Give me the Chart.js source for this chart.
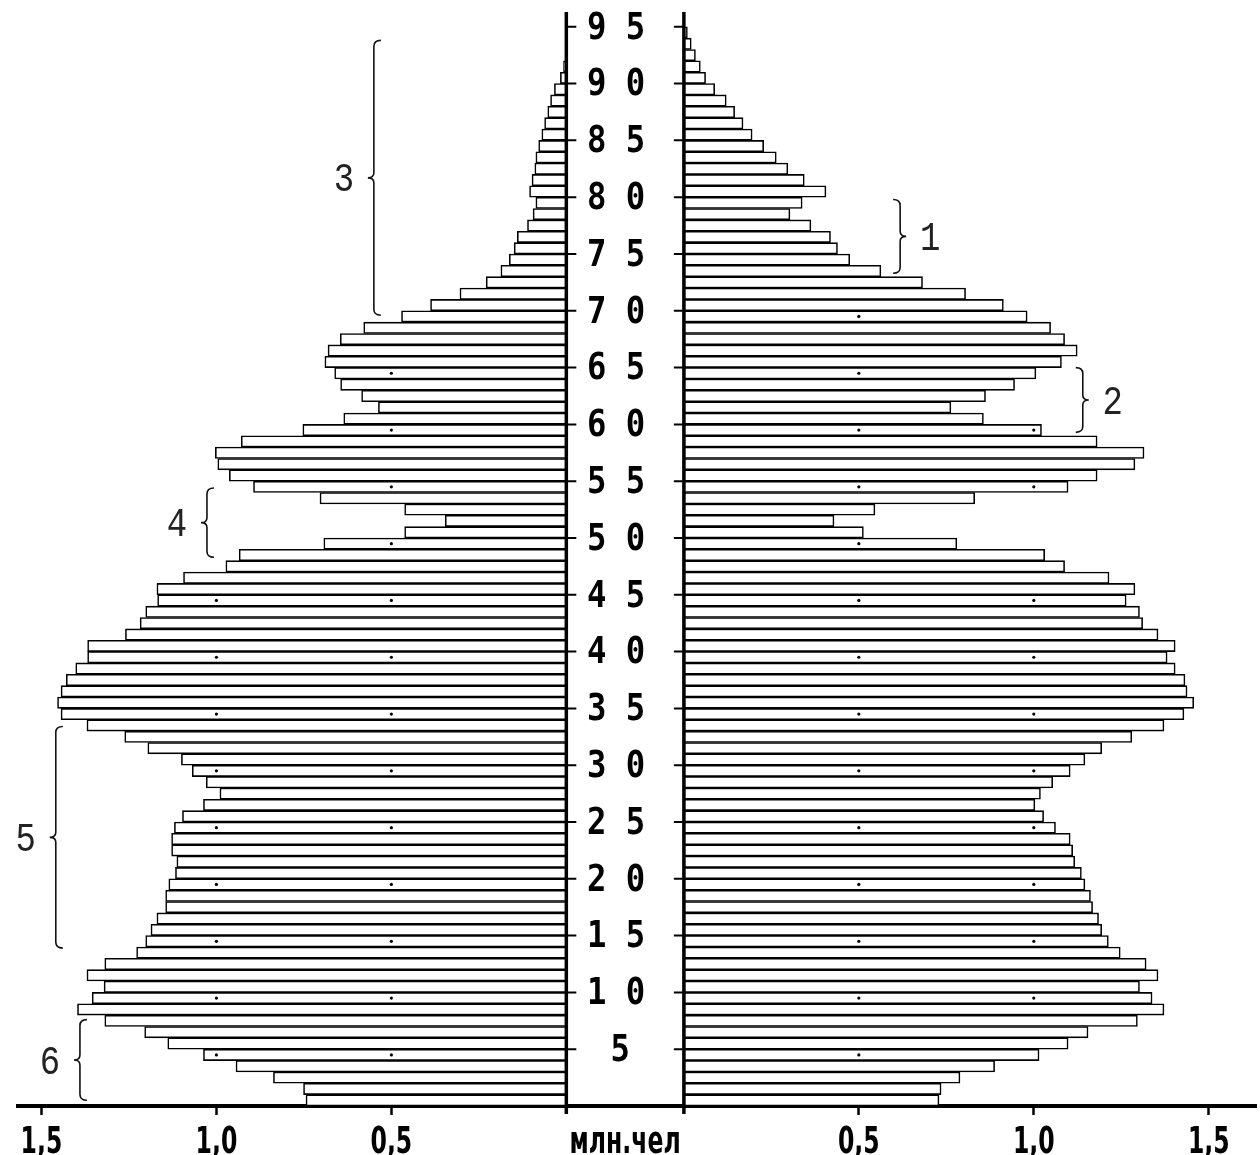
<!DOCTYPE html>
<html>
<head>
<meta charset="utf-8">
<script src="https://cdn.jsdelivr.net/npm/chart.js@4"></script>
<style>
  html, body { margin: 0; padding: 0; background: #fff; }
  #wrap { width: 1260px; height: 1155px; position: relative; }
</style>
</head>
<body>
<div id="wrap"><canvas id="pyramid"></canvas></div>
<script>
// values in million people, ages 0..94 (single years)
const males = [
  0.744, 0.751, 0.837, 0.944, 1.037, 1.139, 1.205, 1.319, 1.397, 1.355,
  1.321, 1.370, 1.319, 1.228, 1.202, 1.187, 1.170, 1.145, 1.145, 1.136,
  1.117, 1.113, 1.128, 1.128, 1.120, 1.097, 1.037, 0.990, 1.029, 1.069,
  1.100, 1.196, 1.262, 1.370, 1.444, 1.454, 1.444, 1.429, 1.402, 1.368,
  1.368, 1.260, 1.218, 1.202, 1.168, 1.170, 1.094, 0.973, 0.935, 0.693,
  0.462, 0.346, 0.462, 0.704, 0.894, 0.963, 0.996, 1.003, 0.929, 0.753,
  0.636, 0.537, 0.585, 0.645, 0.662, 0.690, 0.681, 0.646, 0.579, 0.471,
  0.388, 0.304, 0.229, 0.187, 0.163, 0.149, 0.140, 0.111, 0.095, 0.087,
  0.105, 0.098, 0.090, 0.087, 0.079, 0.070, 0.062, 0.053, 0.045, 0.034,
  0.017, 0.008, 0, 0, 0
];
const females = [
  0.729, 0.735, 0.789, 0.888, 1.015, 1.098, 1.155, 1.296, 1.372, 1.338,
  1.302, 1.355, 1.321, 1.247, 1.213, 1.194, 1.185, 1.168, 1.162, 1.146,
  1.136, 1.117, 1.111, 1.104, 1.062, 1.028, 1.003, 1.019, 1.054, 1.104,
  1.146, 1.194, 1.280, 1.372, 1.429, 1.457, 1.438, 1.432, 1.404, 1.381,
  1.404, 1.355, 1.311, 1.302, 1.264, 1.289, 1.215, 1.088, 1.031, 0.780,
  0.513, 0.429, 0.546, 0.831, 1.098, 1.181, 1.289, 1.315, 1.181, 1.022,
  0.856, 0.763, 0.862, 0.945, 1.006, 1.079, 1.124, 1.088, 1.048, 0.981,
  0.913, 0.805, 0.682, 0.563, 0.474, 0.439, 0.419, 0.363, 0.303, 0.338,
  0.406, 0.344, 0.297, 0.264, 0.228, 0.195, 0.169, 0.145, 0.121, 0.088,
  0.062, 0.047, 0.033, 0.021, 0.010
];
const ages = males.map((v, i) => i);
const ageTicks = [5, 10, 15, 20, 25, 30, 35, 40, 45, 50, 55, 60, 65, 70, 75, 80, 85, 90, 95];
const valueTicks = [0.5, 1.0, 1.5];
const unitLabel = 'млн.чел';
const dotAges = [4, 9, 14, 19, 24, 29, 34, 39, 44, 49, 54, 59, 64, 69];

// bracket notes: age range, x position (signed, million units from centre), side, label
const notes = [
  { from: 69.6, to: 93.8, at: -0.718, dir: -1, label: '3' },
  { from: 73.3, to: 79.8, at: 0.786, dir: 1, label: '1' },
  { from: 59.3, to: 65.0, at: 1.308, dir: 1, label: '2' },
  { from: 48.3, to: 54.4, at: -1.195, dir: -1, label: '4' },
  { from: 13.9, to: 33.4, at: -1.627, dir: -1, label: '5' },
  { from: 0.5, to: 7.6, at: -1.558, dir: -1, label: '6' }
];

const HALF_GAP = 0.168; // half of the central label column, in million units

const maleBars = ages.map(a => males[a] > 0 ? { y: a + 0.5, x: [-HALF_GAP - males[a], -HALF_GAP] } : null).filter(Boolean);
const femaleBars = ages.map(a => females[a] > 0 ? { y: a + 0.5, x: [HALF_GAP, HALF_GAP + females[a]] } : null).filter(Boolean);

const dots = [];
dotAges.forEach(a => {
  [0.5, 1.0].forEach(v => {
    if (males[a] > v + 0.02) dots.push({ x: -HALF_GAP - v, y: a + 0.5 });
    if (females[a] > v + 0.02) dots.push({ x: HALF_GAP + v, y: a + 0.5 });
  });
});

const tickText = (value) => {
  if (Math.abs(value) < 1e-9) return unitLabel;
  return (Math.abs(value) - HALF_GAP).toFixed(1).replace('.', ',');
};

// narrow bold lettering, like the original printout
const drawNarrow = (ctx, text, x, y, squeeze) => {
  ctx.save();
  ctx.translate(x, y);
  ctx.scale(squeeze, 1);
  ctx.fillText(text, 0, 0);
  ctx.restore();
};

const centrePlugin = {
  id: 'centre',
  afterDatasetsDraw(chart) {
    const { ctx, chartArea, scales } = chart;
    const xs = scales.x, ys = scales.y;
    const xl = xs.getPixelForValue(-HALF_GAP);
    const xr = xs.getPixelForValue(HALF_GAP);
    ctx.save();
    ctx.strokeStyle = '#000';
    ctx.lineWidth = 3.5;
    [xl, xr].forEach(x => {
      ctx.beginPath();
      ctx.moveTo(x, chartArea.top);
      ctx.lineTo(x, chartArea.bottom + 8);
      ctx.stroke();
    });

    ctx.lineWidth = 2;
    ctx.fillStyle = '#000';
    ctx.font = 'bold 38px "DejaVu Sans Mono", monospace';
    ctx.textAlign = 'center';
    ctx.textBaseline = 'middle';
    ageTicks.forEach(a => {
      const y = ys.getPixelForValue(a);
      ctx.beginPath();
      ctx.moveTo(xl, y);
      ctx.lineTo(xl + 10, y);
      ctx.moveTo(xr, y);
      ctx.lineTo(xr - 10, y);
      ctx.stroke();
      const t = String(a).split('').join(' ');
      drawNarrow(ctx, t, (xl + xr) / 2 - (t.length > 1 ? 9 : 5), y + 2, 0.85);
    });

    // value labels under the bottom axis
    ctx.font = 'bold 38px "DejaVu Sans", sans-serif';
    ctx.textBaseline = 'alphabetic';
    xs.ticks.forEach(tk => {
      const x = xs.getPixelForValue(tk.value);
      drawNarrow(ctx, tickText(tk.value), x, chartArea.bottom + 47, 0.62);
    });

    // bracket notes
    ctx.lineWidth = 1.6;
    ctx.strokeStyle = '#111';
    ctx.font = '40px "Liberation Mono", monospace';
    ctx.fillStyle = '#222';
    ctx.textBaseline = 'middle';
    notes.forEach(n => {
      const x = xs.getPixelForValue(n.at);
      const yt = ys.getPixelForValue(n.to);
      const yb = ys.getPixelForValue(n.from);
      const ym = (yt + yb) / 2;
      const h = -n.dir * 7; // ends hook away from the point
      ctx.beginPath();
      ctx.moveTo(x + h, yt);
      ctx.quadraticCurveTo(x, yt, x, yt + 6);
      ctx.lineTo(x, ym - 5);
      ctx.quadraticCurveTo(x, ym, x + n.dir * 6, ym);
      ctx.quadraticCurveTo(x, ym, x, ym + 5);
      ctx.lineTo(x, yb - 6);
      ctx.quadraticCurveTo(x, yb, x + h, yb);
      ctx.stroke();
      drawNarrow(ctx, n.label, x + n.dir * 30, ym + 3, 0.85);
    });
    ctx.restore();
  }
};

new Chart(document.getElementById('pyramid'), {
  type: 'bar',
  data: {
    datasets: [
      {
        label: 'Мужчины',
        data: maleBars,
        backgroundColor: '#fff',
        borderColor: '#000',
        borderWidth: 1.6,
        borderSkipped: false,
        grouped: false,
        barPercentage: 1,
        categoryPercentage: 1
      },
      {
        label: 'Женщины',
        data: femaleBars,
        backgroundColor: '#fff',
        borderColor: '#000',
        borderWidth: 1.6,
        borderSkipped: false,
        grouped: false,
        barPercentage: 1,
        categoryPercentage: 1
      },
      {
        type: 'scatter',
        label: 'grid',
        data: dots,
        order: -1,
        pointRadius: 1.6,
        pointBackgroundColor: '#000',
        pointBorderWidth: 0
      }
    ]
  },
  options: {
    indexAxis: 'y',
    responsive: true,
    maintainAspectRatio: false,
    animation: false,
    layout: { padding: { left: 18, right: 0, top: 12, bottom: 0 } },
    plugins: {
      legend: { display: false },
      tooltip: { enabled: false }
    },
    scales: {
      y: {
        type: 'linear',
        display: false,
        offset: false,
        min: 0,
        max: 96.3
      },
      x: {
        type: 'linear',
        min: -1.735,
        max: 1.803,
        afterBuildTicks: (scale) => {
          const vals = [];
          valueTicks.forEach(v => {
            vals.push({ value: -HALF_GAP - v });
            vals.push({ value: HALF_GAP + v });
          });
          vals.push({ value: 0 });
          scale.ticks = vals.sort((a, b) => a.value - b.value);
        },
        afterFit: (scale) => { scale.height = 49; },
        border: { display: true, color: '#000', width: 4 },
        grid: {
          drawOnChartArea: false,
          drawTicks: true,
          tickLength: 9,
          tickWidth: 2.5,
          tickColor: (ctx) => (ctx.tick && Math.abs(ctx.tick.value) < 1e-9) ? 'rgba(0,0,0,0)' : '#000'
        },
        ticks: {
          display: false
        }
      }
    }
  },
  plugins: [centrePlugin]
});
</script>
</body>
</html>
